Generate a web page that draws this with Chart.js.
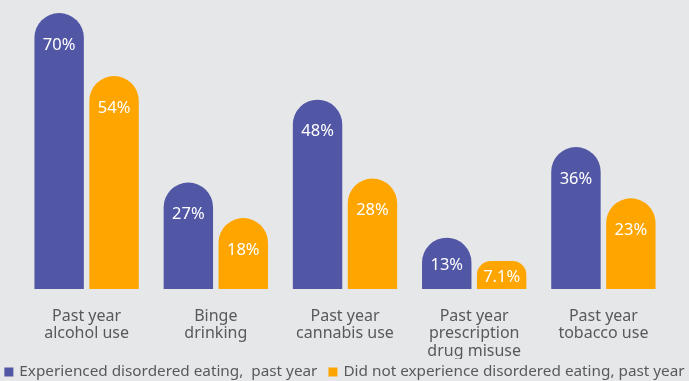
<!DOCTYPE html>
<html><head><meta charset="utf-8">
<script src="https://cdn.jsdelivr.net/npm/chart.js@4/dist/chart.umd.min.js"></script>
<style>html,body{margin:0;padding:0;background:#e6e7e9;overflow:hidden}</style>
</head><body>
<canvas id="c" width="689" height="381" style="display:block;width:689px;height:381px"></canvas>
<script>
const categories = [["Past year","alcohol use"],["Binge","drinking"],["Past year","cannabis use"],["Past year","prescription","drug misuse"],["Past year","tobacco use"]];
const seriesNames = ["Experienced disordered eating,  past year","Did not experience disordered eating, past year"];
const experienced = [70,27,48,13,36];
const notExperienced = [54,18,28,7.1,23];
const experiencedLabels = ["70%","27%","48%","13%","36%"];
const notExperiencedLabels = ["54%","18%","28%","7.1%","23%"];
const colors = ["#5157a5","#ffa500"];
const FONT = "'Noto Sans'";

const valueLabelPlugin = {
  id:'valueLabels',
  afterDatasetsDraw(chart){
    const ctx = chart.ctx;
    const labelSets = [experiencedLabels, notExperiencedLabels];
    ctx.save();
    ctx.fillStyle = '#ffffff';
    ctx.font = '16.5px ' + FONT;
    ctx.textAlign = 'center';
    ctx.textBaseline = 'middle';
    chart.data.datasets.forEach((ds, di) => {
      chart.getDatasetMeta(di).data.forEach((el, i) => {
        const p = el.getProps(['x','y','base'], true);
        const ty = Math.min(p.y + 32, (p.y + p.base)/2 + 2);
        ctx.fillText(labelSets[di][i], p.x, ty);
      });
    });
    ctx.restore();
  }
};

const legendPlugin = {
  id:'customLegend',
  afterDraw(chart){
    const ctx = chart.ctx;
    ctx.save();
    ctx.font = '15.3px ' + FONT;
    ctx.textBaseline = 'middle';
    ctx.textAlign = 'left';
    const box = 9, gapText = 6, gapItem = 11;
    const widths = seriesNames.map(t => box + gapText + ctx.measureText(t).width);
    const total = widths.reduce((a,b)=>a+b,0) + gapItem;
    let x = (chart.width - total)/2;
    const y = 372;
    seriesNames.forEach((t, i) => {
      ctx.fillStyle = colors[i];
      ctx.fillRect(x, y - box/2, box, box);
      ctx.fillStyle = '#58595b';
      ctx.fillText(t, x + box + gapText, y);
      x += widths[i] + gapItem;
    });
    ctx.restore();
  }
};

new Chart(document.getElementById('c'), {
  type:'bar',
  data:{
    labels: categories,
    datasets:[
      {label: seriesNames[0], data: experienced, backgroundColor: colors[0]},
      {label: seriesNames[1], data: notExperienced, backgroundColor: colors[1]}
    ]
  },
  options:{
    responsive:false,
    animation:false,
    devicePixelRatio:1,
    datasets:{bar:{categoryPercentage:0.85, barPercentage:0.9, borderRadius:100, borderSkipped:'start'}},
    layout:{padding:{top:13,left:22,right:21,bottom:22}},
    plugins:{legend:{display:false}, tooltip:{enabled:false}},
    scales:{
      x:{
        grid:{display:false, drawTicks:false},
        border:{display:false},
        ticks:{color:'#58595b', font:{family:"Noto Sans", size:16, lineHeight:1.12}, padding:18, maxRotation:0, autoSkip:false},
        afterFit(s){ s.height = 70; }
      },
      y:{display:false, min:0, max:70}
    }
  },
  plugins:[valueLabelPlugin, legendPlugin]
});
</script>
</body></html>
